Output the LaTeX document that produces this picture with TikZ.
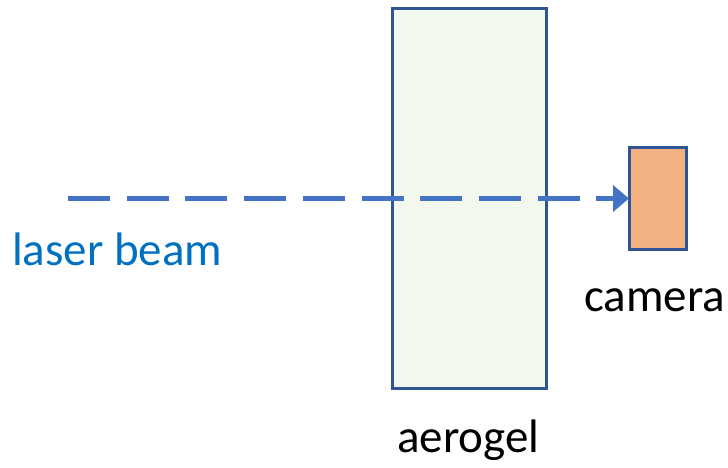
\documentclass[tikz,border=0pt]{standalone}
\usepackage{fontspec}
\setmainfont{Carlito}
\usetikzlibrary{arrows.meta}
\definecolor{boxline}{HTML}{2F5597}
\definecolor{gelfill}{HTML}{F3F8EE}
\definecolor{camfill}{HTML}{F4B183}
\definecolor{beam}{HTML}{4472C4}
\definecolor{labelblue}{HTML}{0070C0}
\tikzset{
  x=1pt, y=1pt,
  box/.style={draw=boxline, line width=3pt, rectangle, inner sep=0pt, outer sep=0pt},
  lbl/.style={font=\fontsize{47}{56}\selectfont, inner sep=0pt, anchor=base west},
  beamline/.style={draw=beam, line width=5pt, dash pattern=on 42pt off 16.7pt, -{Triangle[length=16pt,width=26pt]}}
}
\begin{document}
\begin{tikzpicture}
\useasboundingbox (0,0) rectangle (728,-468);
\node[box, fill=gelfill, minimum width=154pt, minimum height=379pt] (gel) at (469,-198.5) {};
\node[box, fill=camfill, minimum width=57pt, minimum height=101pt] (cam) at (657.5,-198.5) {};
\coordinate (start) at (68,-198.5);
\draw[beamline] (start) -- (cam.west);
\node[lbl, text=labelblue] (laser) at (12,-265) {laser beam};
\node[lbl] (camlbl) at (584,-311) {camera};
\node[lbl] (gellbl) at (397,-452) {aerogel};
\end{tikzpicture}
\end{document}
